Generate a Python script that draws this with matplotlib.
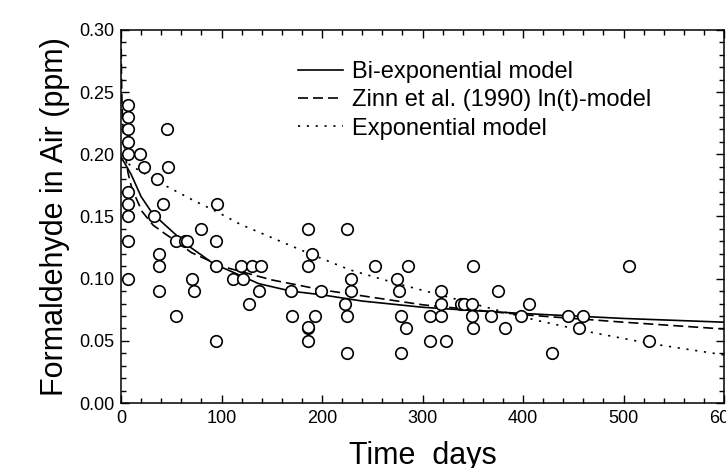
import matplotlib
matplotlib.use("Agg")
import matplotlib.pyplot as plt
from matplotlib.ticker import MultipleLocator

plt.rcParams['font.family'] = ['Liberation Sans', 'DejaVu Sans']

# observed formaldehyde concentrations (days, ppm)
obs_days = [7, 7, 7, 7, 7, 7, 7, 7, 7, 7,
            19, 23, 33, 36, 38, 38, 38, 42, 46, 47,
            55, 55, 64, 66, 71, 73, 80,
            95, 95, 95, 96,
            111, 119, 121, 127, 130, 137, 139,
            169, 170, 186, 186, 186, 186, 186, 190, 193, 199,
            223, 225, 225, 225, 229, 229,
            253, 275, 277, 279, 279, 284, 286,
            307, 307, 318, 318, 318, 323, 338, 341, 349, 349, 350, 350,
            368, 375, 382, 398, 406, 429, 445, 456, 460, 505, 525]
obs_ppm = [0.24, 0.23, 0.22, 0.21, 0.20, 0.17, 0.16, 0.15, 0.13, 0.10,
           0.20, 0.19, 0.15, 0.18, 0.12, 0.11, 0.09, 0.16, 0.22, 0.19,
           0.13, 0.07, 0.13, 0.13, 0.10, 0.09, 0.14,
           0.13, 0.11, 0.05, 0.16,
           0.10, 0.11, 0.10, 0.08, 0.11, 0.09, 0.11,
           0.09, 0.07, 0.14, 0.11, 0.06, 0.061, 0.05, 0.12, 0.07, 0.09,
           0.08, 0.14, 0.07, 0.04, 0.10, 0.09,
           0.11, 0.10, 0.09, 0.07, 0.04, 0.06, 0.11,
           0.07, 0.05, 0.09, 0.08, 0.07, 0.05, 0.08, 0.08, 0.08, 0.07, 0.11, 0.06,
           0.07, 0.09, 0.06, 0.07, 0.08, 0.04, 0.07, 0.06, 0.07, 0.11, 0.05]

# model curves
biexp_days = [0, 5, 10, 20, 30, 40, 55, 66, 80, 92, 112, 137, 169, 200, 240, 300, 357, 400, 500, 600]
biexp_ppm = [0.198, 0.191, 0.184, 0.166, 0.154, 0.146, 0.135, 0.127, 0.119, 0.112,
             0.105, 0.096, 0.090, 0.087, 0.082, 0.077, 0.074, 0.072, 0.068, 0.065]

zinn_days = [0.15, 0.3, 0.6, 1, 2, 4, 7, 11, 21, 32, 44, 55, 70, 100, 150, 200, 300, 400, 500, 600]
zinn_ppm = [0.297, 0.276, 0.257, 0.241, 0.221, 0.201, 0.185, 0.172, 0.154, 0.143,
            0.136, 0.130, 0.121, 0.110, 0.099, 0.091, 0.079, 0.071, 0.065, 0.0595]

exp_days = [0, 12, 39, 72, 95, 118, 150, 188, 228, 275, 317, 350, 380, 414, 467, 525, 600]
exp_ppm = [0.196, 0.190, 0.177, 0.163, 0.154, 0.144, 0.133, 0.120, 0.107, 0.096,
           0.087, 0.080, 0.0734, 0.0664, 0.057, 0.048, 0.0387]

fig = plt.figure(figsize=(7.26, 4.68), dpi=100)
ax = fig.add_axes([121 / 726, 65 / 468, 603 / 726, 373 / 468])

ax.plot(biexp_days, biexp_ppm, color='black', lw=1.2, ls='-', label='Bi-exponential model')
ax.plot(zinn_days, zinn_ppm, color='black', lw=1.2, dashes=(6, 3),
        label='Zinn et al. (1990) ln(t)-model')
ax.plot(exp_days, exp_ppm, color='black', lw=1.2, dashes=(1.3, 4), label='Exponential model')
ax.plot(obs_days, obs_ppm, ls='none', marker='o', ms=8.3, mfc='white', mec='black',
        mew=1.2, zorder=3)

ax.set_xlim(0, 600)
ax.set_ylim(0, 0.30)
ax.xaxis.set_major_locator(MultipleLocator(100))
ax.xaxis.set_minor_locator(MultipleLocator(20))
ax.yaxis.set_major_locator(MultipleLocator(0.05))
ax.yaxis.set_minor_locator(MultipleLocator(0.01))
ax.yaxis.set_major_formatter(plt.FuncFormatter(lambda v, p: '%.2f' % v))

ax.tick_params(which='both', direction='in', top=True, right=True, labelsize=13, width=1)
ax.tick_params(which='major', length=6, pad=5)
ax.tick_params(which='minor', length=3.5)
for s in ax.spines.values():
    s.set_linewidth(1.1)

ax.set_xlabel('Time  days', fontsize=22, labelpad=10)
ax.set_ylabel('Formaldehyde in Air (ppm)', fontsize=22, labelpad=6)

ax.legend(loc='upper left', bbox_to_anchor=((298 - 121) / 603, (403 - 61) / 373),
          frameon=False, fontsize=17, handlelength=1.9, handletextpad=0.4,
          labelspacing=0.27, borderpad=0, borderaxespad=0)

plt.savefig('out.png', dpi=100)
